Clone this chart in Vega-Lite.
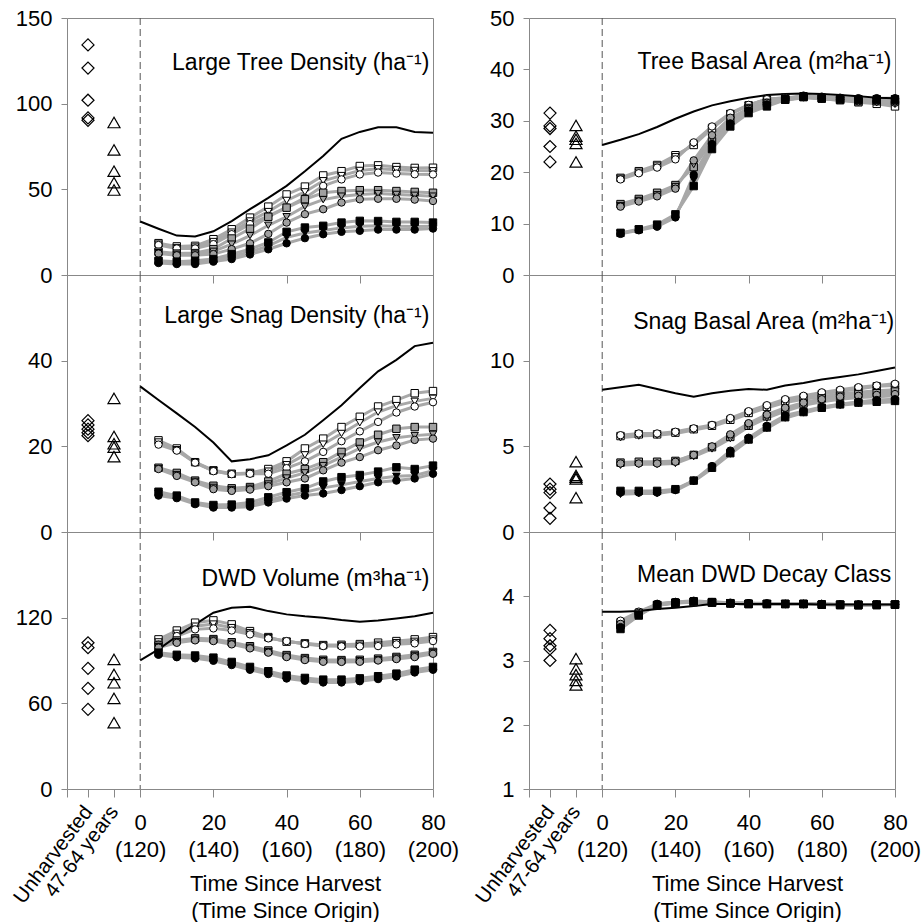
{
"$schema": "https://vega.github.io/schema/vega-lite/v6.json",
"padding": {"left": 9, "top": 6, "right": 5, "bottom": 0},
"background": "white",
"config": {"font": "Liberation Sans", "view": {"stroke": "#888888", "strokeWidth": 1}},
"datasets": {
"oA": [{"site":"Unharvested","v":134.3},{"site":"Unharvested","v":120.8},{"site":"Unharvested","v":102},{"site":"Unharvested","v":91.7},{"site":"Unharvested","v":90.3},{"site":"47-64 years","v":89},{"site":"47-64 years","v":73},{"site":"47-64 years","v":60.6},{"site":"47-64 years","v":53.9},{"site":"47-64 years","v":49.6}],
"oB": [{"site":"Unharvested","v":26},{"site":"Unharvested","v":25},{"site":"Unharvested","v":24},{"site":"Unharvested","v":23.2},{"site":"Unharvested","v":22.5},{"site":"47-64 years","v":31.2},{"site":"47-64 years","v":22.3},{"site":"47-64 years","v":20.6},{"site":"47-64 years","v":19.8},{"site":"47-64 years","v":17.6}],
"oC": [{"site":"Unharvested","v":102.4},{"site":"Unharvested","v":99},{"site":"Unharvested","v":84.5},{"site":"Unharvested","v":70.5},{"site":"Unharvested","v":55.8},{"site":"47-64 years","v":90.8},{"site":"47-64 years","v":80.3},{"site":"47-64 years","v":74.4},{"site":"47-64 years","v":63.5},{"site":"47-64 years","v":46.4}],
"oD": [{"site":"Unharvested","v":31.5},{"site":"Unharvested","v":29},{"site":"Unharvested","v":28.5},{"site":"Unharvested","v":25},{"site":"Unharvested","v":22},{"site":"47-64 years","v":29.1},{"site":"47-64 years","v":27},{"site":"47-64 years","v":26.4},{"site":"47-64 years","v":25.6},{"site":"47-64 years","v":22}],
"oE": [{"site":"Unharvested","v":2.8},{"site":"Unharvested","v":2.5},{"site":"Unharvested","v":2.3},{"site":"Unharvested","v":1.4},{"site":"Unharvested","v":0.8},{"site":"47-64 years","v":4.1},{"site":"47-64 years","v":3.3},{"site":"47-64 years","v":3.2},{"site":"47-64 years","v":3.1},{"site":"47-64 years","v":2.0}],
"oF": [{"site":"Unharvested","v":3.47},{"site":"Unharvested","v":3.34},{"site":"Unharvested","v":3.23},{"site":"Unharvested","v":3.18},{"site":"Unharvested","v":3.0},{"site":"47-64 years","v":3.03},{"site":"47-64 years","v":2.87},{"site":"47-64 years","v":2.78},{"site":"47-64 years","v":2.69},{"site":"47-64 years","v":2.62}],
"nA": [{"t":0,"v":31.2},{"t":5,"v":27},{"t":10,"v":23},{"t":15,"v":22.5},{"t":20,"v":25.5},{"t":25,"v":31.5},{"t":30,"v":38.4},{"t":35,"v":45},{"t":40,"v":52},{"t":45,"v":60.5},{"t":50,"v":69.4},{"t":55,"v":79.5},{"t":60,"v":83.5},{"t":65,"v":86.2},{"t":70,"v":86.2},{"t":75,"v":83.5},{"t":80,"v":83}],
"nB": [{"t":0,"v":34},{"t":5,"v":30.8},{"t":10,"v":27.7},{"t":15,"v":24.5},{"t":20,"v":20.9},{"t":25,"v":16.5},{"t":30,"v":17},{"t":35,"v":17.9},{"t":40,"v":20.2},{"t":45,"v":22.7},{"t":50,"v":26.1},{"t":55,"v":29.6},{"t":60,"v":33.6},{"t":65,"v":37.5},{"t":70,"v":40.2},{"t":75,"v":43.4},{"t":80,"v":44.2}],
"nC": [{"t":0,"v":90.1},{"t":5,"v":97.8},{"t":10,"v":107},{"t":15,"v":115.3},{"t":20,"v":123.5},{"t":25,"v":127},{"t":30,"v":127.7},{"t":35,"v":124.6},{"t":40,"v":122.3},{"t":45,"v":121},{"t":50,"v":120},{"t":55,"v":118.4},{"t":60,"v":117.2},{"t":65,"v":118.1},{"t":70,"v":119.5},{"t":75,"v":121},{"t":80,"v":123.5}],
"nD": [{"t":0,"v":25.3},{"t":5,"v":26.3},{"t":10,"v":27.4},{"t":15,"v":28.8},{"t":20,"v":30.4},{"t":25,"v":31.8},{"t":30,"v":33},{"t":35,"v":33.8},{"t":40,"v":34.5},{"t":45,"v":35},{"t":50,"v":35.2},{"t":55,"v":35.3},{"t":60,"v":35.2},{"t":65,"v":35},{"t":70,"v":34.8},{"t":75,"v":34.5},{"t":80,"v":34.4}],
"nE": [{"t":0,"v":8.3},{"t":5,"v":8.45},{"t":10,"v":8.6},{"t":15,"v":8.35},{"t":20,"v":8.1},{"t":25,"v":7.9},{"t":30,"v":8.1},{"t":35,"v":8.25},{"t":40,"v":8.35},{"t":45,"v":8.3},{"t":50,"v":8.55},{"t":55,"v":8.7},{"t":60,"v":8.9},{"t":65,"v":9.05},{"t":70,"v":9.2},{"t":75,"v":9.4},{"t":80,"v":9.6}],
"nF": [{"t":0,"v":3.76},{"t":5,"v":3.76},{"t":10,"v":3.77},{"t":15,"v":3.8},{"t":20,"v":3.82},{"t":25,"v":3.85},{"t":30,"v":3.88},{"t":35,"v":3.88},{"t":40,"v":3.88},{"t":45,"v":3.88},{"t":50,"v":3.88},{"t":55,"v":3.88},{"t":60,"v":3.87},{"t":65,"v":3.87},{"t":70,"v":3.87},{"t":75,"v":3.87},{"t":80,"v":3.87}],
"sA": [
{"s":"oS","t":5,"v":18.6},{"s":"oS","t":10,"v":16.7},{"s":"oS","t":15,"v":17},{"s":"oS","t":20,"v":20.9},{"s":"oS","t":25,"v":26.7},{"s":"oS","t":30,"v":33.5},{"s":"oS","t":35,"v":39.9},{"s":"oS","t":40,"v":47},{"s":"oS","t":45,"v":51.6},{"s":"oS","t":50,"v":58.1},{"s":"oS","t":55,"v":60.6},{"s":"oS","t":60,"v":63.6},{"s":"oS","t":65,"v":64},{"s":"oS","t":70,"v":63},{"s":"oS","t":75,"v":62.5},{"s":"oS","t":80,"v":62.6},
{"s":"oT","t":5,"v":18},{"s":"oT","t":10,"v":16},{"s":"oT","t":15,"v":16.3},{"s":"oT","t":20,"v":19.5},{"s":"oT","t":25,"v":25},{"s":"oT","t":30,"v":31.5},{"s":"oT","t":35,"v":37},{"s":"oT","t":40,"v":43.5},{"s":"oT","t":45,"v":48.5},{"s":"oT","t":50,"v":55},{"s":"oT","t":55,"v":58},{"s":"oT","t":60,"v":61},{"s":"oT","t":65,"v":62},{"s":"oT","t":70,"v":61.5},{"s":"oT","t":75,"v":61},{"s":"oT","t":80,"v":60.8},
{"s":"oC","t":5,"v":17.5},{"s":"oC","t":10,"v":15.5},{"s":"oC","t":15,"v":15.5},{"s":"oC","t":20,"v":18},{"s":"oC","t":25,"v":23.8},{"s":"oC","t":30,"v":29.7},{"s":"oC","t":35,"v":34.5},{"s":"oC","t":40,"v":39.5},{"s":"oC","t":45,"v":45},{"s":"oC","t":50,"v":52},{"s":"oC","t":55,"v":55.8},{"s":"oC","t":60,"v":58.7},{"s":"oC","t":65,"v":59.8},{"s":"oC","t":70,"v":59.2},{"s":"oC","t":75,"v":58.8},{"s":"oC","t":80,"v":58.7},
{"s":"gS","t":5,"v":13.6},{"s":"gS","t":10,"v":12.5},{"s":"gS","t":15,"v":12.8},{"s":"gS","t":20,"v":15.1},{"s":"gS","t":25,"v":21.3},{"s":"gS","t":30,"v":27},{"s":"gS","t":35,"v":34},{"s":"gS","t":40,"v":39.3},{"s":"gS","t":45,"v":44.2},{"s":"gS","t":50,"v":48},{"s":"gS","t":55,"v":49},{"s":"gS","t":60,"v":49.5},{"s":"gS","t":65,"v":49.5},{"s":"gS","t":70,"v":49},{"s":"gS","t":75,"v":48.5},{"s":"gS","t":80,"v":48},
{"s":"gT","t":5,"v":13},{"s":"gT","t":10,"v":12},{"s":"gT","t":15,"v":12.2},{"s":"gT","t":20,"v":13.8},{"s":"gT","t":25,"v":18},{"s":"gT","t":30,"v":23},{"s":"gT","t":35,"v":29},{"s":"gT","t":40,"v":34},{"s":"gT","t":45,"v":40},{"s":"gT","t":50,"v":44},{"s":"gT","t":55,"v":46},{"s":"gT","t":60,"v":47},{"s":"gT","t":65,"v":47.5},{"s":"gT","t":70,"v":47},{"s":"gT","t":75,"v":46.5},{"s":"gT","t":80,"v":46},
{"s":"gC","t":5,"v":12.5},{"s":"gC","t":10,"v":11.5},{"s":"gC","t":15,"v":11.5},{"s":"gC","t":20,"v":12.2},{"s":"gC","t":25,"v":15.1},{"s":"gC","t":30,"v":18.5},{"s":"gC","t":35,"v":24},{"s":"gC","t":40,"v":30.6},{"s":"gC","t":45,"v":35.5},{"s":"gC","t":50,"v":38.4},{"s":"gC","t":55,"v":42.3},{"s":"gC","t":60,"v":44.2},{"s":"gC","t":65,"v":44.5},{"s":"gC","t":70,"v":44.5},{"s":"gC","t":75,"v":44},{"s":"gC","t":80,"v":43.2},
{"s":"bS","t":5,"v":8.3},{"s":"bS","t":10,"v":7.8},{"s":"bS","t":15,"v":8.3},{"s":"bS","t":20,"v":9.3},{"s":"bS","t":25,"v":12.2},{"s":"bS","t":30,"v":15.1},{"s":"bS","t":35,"v":19},{"s":"bS","t":40,"v":25.2},{"s":"bS","t":45,"v":27.7},{"s":"bS","t":50,"v":28.7},{"s":"bS","t":55,"v":30.6},{"s":"bS","t":60,"v":31.6},{"s":"bS","t":65,"v":31.5},{"s":"bS","t":70,"v":31},{"s":"bS","t":75,"v":31},{"s":"bS","t":80,"v":30.6},
{"s":"bT","t":5,"v":7.6},{"s":"bT","t":10,"v":7},{"s":"bT","t":15,"v":7.2},{"s":"bT","t":20,"v":8.5},{"s":"bT","t":25,"v":10.8},{"s":"bT","t":30,"v":13.5},{"s":"bT","t":35,"v":17},{"s":"bT","t":40,"v":22},{"s":"bT","t":45,"v":24.5},{"s":"bT","t":50,"v":26},{"s":"bT","t":55,"v":27.5},{"s":"bT","t":60,"v":28.5},{"s":"bT","t":65,"v":28.8},{"s":"bT","t":70,"v":28.5},{"s":"bT","t":75,"v":28.3},{"s":"bT","t":80,"v":28.5},
{"s":"bC","t":5,"v":7},{"s":"bC","t":10,"v":6.4},{"s":"bC","t":15,"v":6.4},{"s":"bC","t":20,"v":7.8},{"s":"bC","t":25,"v":9.3},{"s":"bC","t":30,"v":12},{"s":"bC","t":35,"v":15},{"s":"bC","t":40,"v":18.5},{"s":"bC","t":45,"v":21.5},{"s":"bC","t":50,"v":23.8},{"s":"bC","t":55,"v":25.2},{"s":"bC","t":60,"v":25.8},{"s":"bC","t":65,"v":26.5},{"s":"bC","t":70,"v":26.5},{"s":"bC","t":75,"v":26.5},{"s":"bC","t":80,"v":27.1}
],
"sB": [
{"s":"oS","t":5,"v":21.4},{"s":"oS","t":10,"v":19.5},{"s":"oS","t":15,"v":16.3},{"s":"oS","t":20,"v":14.4},{"s":"oS","t":25,"v":13.6},{"s":"oS","t":30,"v":13.8},{"s":"oS","t":35,"v":14.7},{"s":"oS","t":40,"v":16.5},{"s":"oS","t":45,"v":19.5},{"s":"oS","t":50,"v":21.8},{"s":"oS","t":55,"v":24.5},{"s":"oS","t":60,"v":26.9},{"s":"oS","t":65,"v":29.3},{"s":"oS","t":70,"v":30.8},{"s":"oS","t":75,"v":32.4},{"s":"oS","t":80,"v":32.9},
{"s":"oT","t":5,"v":21},{"s":"oT","t":10,"v":19.2},{"s":"oT","t":15,"v":16.2},{"s":"oT","t":20,"v":14.3},{"s":"oT","t":25,"v":13.5},{"s":"oT","t":30,"v":13.7},{"s":"oT","t":35,"v":14.2},{"s":"oT","t":40,"v":15.7},{"s":"oT","t":45,"v":18},{"s":"oT","t":50,"v":20.5},{"s":"oT","t":55,"v":23},{"s":"oT","t":60,"v":25.5},{"s":"oT","t":65,"v":28},{"s":"oT","t":70,"v":29.5},{"s":"oT","t":75,"v":30.5},{"s":"oT","t":80,"v":31.2},
{"s":"oC","t":5,"v":20.4},{"s":"oC","t":10,"v":19},{"s":"oC","t":15,"v":16.2},{"s":"oC","t":20,"v":14.2},{"s":"oC","t":25,"v":13.5},{"s":"oC","t":30,"v":13.6},{"s":"oC","t":35,"v":13.6},{"s":"oC","t":40,"v":14.9},{"s":"oC","t":45,"v":16.5},{"s":"oC","t":50,"v":18.7},{"s":"oC","t":55,"v":21.2},{"s":"oC","t":60,"v":23.5},{"s":"oC","t":65,"v":25.7},{"s":"oC","t":70,"v":27.9},{"s":"oC","t":75,"v":29.3},{"s":"oC","t":80,"v":30.3},
{"s":"gS","t":5,"v":15},{"s":"gS","t":10,"v":13.8},{"s":"gS","t":15,"v":12},{"s":"gS","t":20,"v":10.8},{"s":"gS","t":25,"v":10.2},{"s":"gS","t":30,"v":10.5},{"s":"gS","t":35,"v":11.8},{"s":"gS","t":40,"v":13.6},{"s":"gS","t":45,"v":14.7},{"s":"gS","t":50,"v":16.3},{"s":"gS","t":55,"v":18.7},{"s":"gS","t":60,"v":20.9},{"s":"gS","t":65,"v":22.7},{"s":"gS","t":70,"v":24.1},{"s":"gS","t":75,"v":24.5},{"s":"gS","t":80,"v":24.5},
{"s":"gT","t":5,"v":14.8},{"s":"gT","t":10,"v":13.4},{"s":"gT","t":15,"v":11.8},{"s":"gT","t":20,"v":10.4},{"s":"gT","t":25,"v":9.9},{"s":"gT","t":30,"v":10.2},{"s":"gT","t":35,"v":11.2},{"s":"gT","t":40,"v":12.6},{"s":"gT","t":45,"v":13.8},{"s":"gT","t":50,"v":15.5},{"s":"gT","t":55,"v":17.5},{"s":"gT","t":60,"v":19.5},{"s":"gT","t":65,"v":21},{"s":"gT","t":70,"v":22},{"s":"gT","t":75,"v":22.5},{"s":"gT","t":80,"v":22.8},
{"s":"gC","t":5,"v":14.7},{"s":"gC","t":10,"v":13.1},{"s":"gC","t":15,"v":11.6},{"s":"gC","t":20,"v":10},{"s":"gC","t":25,"v":9.6},{"s":"gC","t":30,"v":9.9},{"s":"gC","t":35,"v":10.7},{"s":"gC","t":40,"v":11.6},{"s":"gC","t":45,"v":12.5},{"s":"gC","t":50,"v":14.4},{"s":"gC","t":55,"v":16.2},{"s":"gC","t":60,"v":17.5},{"s":"gC","t":65,"v":19.1},{"s":"gC","t":70,"v":20.2},{"s":"gC","t":75,"v":21.5},{"s":"gC","t":80,"v":21.8},
{"s":"bS","t":5,"v":9.4},{"s":"bS","t":10,"v":8.5},{"s":"bS","t":15,"v":6.9},{"s":"bS","t":20,"v":6.3},{"s":"bS","t":25,"v":6.4},{"s":"bS","t":30,"v":6.9},{"s":"bS","t":35,"v":8.1},{"s":"bS","t":40,"v":9.3},{"s":"bS","t":45,"v":10.2},{"s":"bS","t":50,"v":11.8},{"s":"bS","t":55,"v":12.8},{"s":"bS","t":60,"v":13.3},{"s":"bS","t":65,"v":14.1},{"s":"bS","t":70,"v":15.1},{"s":"bS","t":75,"v":14.7},{"s":"bS","t":80,"v":15.5},
{"s":"bT","t":5,"v":9},{"s":"bT","t":10,"v":8.2},{"s":"bT","t":15,"v":6.7},{"s":"bT","t":20,"v":6},{"s":"bT","t":25,"v":6},{"s":"bT","t":30,"v":6.3},{"s":"bT","t":35,"v":7.4},{"s":"bT","t":40,"v":8.5},{"s":"bT","t":45,"v":9.3},{"s":"bT","t":50,"v":10.3},{"s":"bT","t":55,"v":11},{"s":"bT","t":60,"v":11.8},{"s":"bT","t":65,"v":12.5},{"s":"bT","t":70,"v":13},{"s":"bT","t":75,"v":13.2},{"s":"bT","t":80,"v":14.3},
{"s":"bC","t":5,"v":8.5},{"s":"bC","t":10,"v":7.9},{"s":"bC","t":15,"v":6.5},{"s":"bC","t":20,"v":5.7},{"s":"bC","t":25,"v":5.7},{"s":"bC","t":30,"v":5.9},{"s":"bC","t":35,"v":6.9},{"s":"bC","t":40,"v":7.8},{"s":"bC","t":45,"v":8.5},{"s":"bC","t":50,"v":9},{"s":"bC","t":55,"v":9.8},{"s":"bC","t":60,"v":10.7},{"s":"bC","t":65,"v":11.6},{"s":"bC","t":70,"v":12},{"s":"bC","t":75,"v":12.5},{"s":"bC","t":80,"v":13.6}
],
"sC": [
{"s":"oS","t":5,"v":104.8},{"s":"oS","t":10,"v":111},{"s":"oS","t":15,"v":116.5},{"s":"oS","t":20,"v":118.1},{"s":"oS","t":25,"v":115.3},{"s":"oS","t":30,"v":110.6},{"s":"oS","t":35,"v":106.4},{"s":"oS","t":40,"v":103.2},{"s":"oS","t":45,"v":102},{"s":"oS","t":50,"v":100.8},{"s":"oS","t":55,"v":101},{"s":"oS","t":60,"v":101.5},{"s":"oS","t":65,"v":102.5},{"s":"oS","t":70,"v":103.6},{"s":"oS","t":75,"v":104.8},{"s":"oS","t":80,"v":106.4},
{"s":"oT","t":5,"v":103},{"s":"oT","t":10,"v":109},{"s":"oT","t":15,"v":114},{"s":"oT","t":20,"v":115.5},{"s":"oT","t":25,"v":113},{"s":"oT","t":30,"v":109.5},{"s":"oT","t":35,"v":106},{"s":"oT","t":40,"v":103.4},{"s":"oT","t":45,"v":101.8},{"s":"oT","t":50,"v":100.5},{"s":"oT","t":55,"v":100.5},{"s":"oT","t":60,"v":100.7},{"s":"oT","t":65,"v":101.3},{"s":"oT","t":70,"v":102.5},{"s":"oT","t":75,"v":103.4},{"s":"oT","t":80,"v":105},
{"s":"oC","t":5,"v":101.3},{"s":"oC","t":10,"v":107.1},{"s":"oC","t":15,"v":111.8},{"s":"oC","t":20,"v":112.5},{"s":"oC","t":25,"v":111},{"s":"oC","t":30,"v":108.3},{"s":"oC","t":35,"v":105.5},{"s":"oC","t":40,"v":103.6},{"s":"oC","t":45,"v":101.5},{"s":"oC","t":50,"v":100.1},{"s":"oC","t":55,"v":99.9},{"s":"oC","t":60,"v":99.9},{"s":"oC","t":65,"v":100.1},{"s":"oC","t":70,"v":101.3},{"s":"oC","t":75,"v":102},{"s":"oC","t":80,"v":103.6},
{"s":"gS","t":5,"v":100.5},{"s":"gS","t":10,"v":104},{"s":"gS","t":15,"v":105.5},{"s":"gS","t":20,"v":105},{"s":"gS","t":25,"v":102.8},{"s":"gS","t":30,"v":100},{"s":"gS","t":35,"v":97},{"s":"gS","t":40,"v":93.8},{"s":"gS","t":45,"v":91.7},{"s":"gS","t":50,"v":90.5},{"s":"gS","t":55,"v":90.3},{"s":"gS","t":60,"v":90.5},{"s":"gS","t":65,"v":91.3},{"s":"gS","t":70,"v":92.5},{"s":"gS","t":75,"v":94},{"s":"gS","t":80,"v":96},
{"s":"gT","t":5,"v":99.7},{"s":"gT","t":10,"v":103.2},{"s":"gT","t":15,"v":104.8},{"s":"gT","t":20,"v":104.3},{"s":"gT","t":25,"v":102},{"s":"gT","t":30,"v":99.2},{"s":"gT","t":35,"v":96.2},{"s":"gT","t":40,"v":93},{"s":"gT","t":45,"v":91},{"s":"gT","t":50,"v":89.8},{"s":"gT","t":55,"v":89.6},{"s":"gT","t":60,"v":89.8},{"s":"gT","t":65,"v":90.6},{"s":"gT","t":70,"v":91.7},{"s":"gT","t":75,"v":93.2},{"s":"gT","t":80,"v":95.3},
{"s":"gC","t":5,"v":99},{"s":"gC","t":10,"v":102.4},{"s":"gC","t":15,"v":104.1},{"s":"gC","t":20,"v":103.6},{"s":"gC","t":25,"v":101.3},{"s":"gC","t":30,"v":98.5},{"s":"gC","t":35,"v":95.5},{"s":"gC","t":40,"v":92.4},{"s":"gC","t":45,"v":90.3},{"s":"gC","t":50,"v":89.1},{"s":"gC","t":55,"v":89},{"s":"gC","t":60,"v":89.1},{"s":"gC","t":65,"v":90},{"s":"gC","t":70,"v":91},{"s":"gC","t":75,"v":92.4},{"s":"gC","t":80,"v":94.7},
{"s":"bS","t":5,"v":95.5},{"s":"bS","t":10,"v":94},{"s":"bS","t":15,"v":93.5},{"s":"bS","t":20,"v":92},{"s":"bS","t":25,"v":89},{"s":"bS","t":30,"v":85.5},{"s":"bS","t":35,"v":82.5},{"s":"bS","t":40,"v":79.5},{"s":"bS","t":45,"v":77.8},{"s":"bS","t":50,"v":76.6},{"s":"bS","t":55,"v":76.6},{"s":"bS","t":60,"v":77.5},{"s":"bS","t":65,"v":79},{"s":"bS","t":70,"v":80.8},{"s":"bS","t":75,"v":83.6},{"s":"bS","t":80,"v":85.5},
{"s":"bT","t":5,"v":94.7},{"s":"bT","t":10,"v":93.1},{"s":"bT","t":15,"v":92.4},{"s":"bT","t":20,"v":90.8},{"s":"bT","t":25,"v":87.8},{"s":"bT","t":30,"v":84.5},{"s":"bT","t":35,"v":81.5},{"s":"bT","t":40,"v":78.4},{"s":"bT","t":45,"v":76.8},{"s":"bT","t":50,"v":75.6},{"s":"bT","t":55,"v":75.6},{"s":"bT","t":60,"v":76.5},{"s":"bT","t":65,"v":78},{"s":"bT","t":70,"v":79.8},{"s":"bT","t":75,"v":82.6},{"s":"bT","t":80,"v":84.5},
{"s":"bC","t":5,"v":94},{"s":"bC","t":10,"v":92.3},{"s":"bC","t":15,"v":91.5},{"s":"bC","t":20,"v":89.8},{"s":"bC","t":25,"v":86.8},{"s":"bC","t":30,"v":83.5},{"s":"bC","t":35,"v":80.5},{"s":"bC","t":40,"v":77.4},{"s":"bC","t":45,"v":75.8},{"s":"bC","t":50,"v":74.6},{"s":"bC","t":55,"v":74.6},{"s":"bC","t":60,"v":75.5},{"s":"bC","t":65,"v":77},{"s":"bC","t":70,"v":78.8},{"s":"bC","t":75,"v":81.6},{"s":"bC","t":80,"v":83.5}
],
"sD": [
{"s":"oS","t":5,"v":18.9},{"s":"oS","t":10,"v":20.2},{"s":"oS","t":15,"v":21.4},{"s":"oS","t":20,"v":23.3},{"s":"oS","t":25,"v":25.3},{"s":"oS","t":30,"v":28.5},{"s":"oS","t":35,"v":31.3},{"s":"oS","t":40,"v":33},{"s":"oS","t":45,"v":34.2},{"s":"oS","t":50,"v":34.5},{"s":"oS","t":55,"v":34.7},{"s":"oS","t":60,"v":34.3},{"s":"oS","t":65,"v":34},{"s":"oS","t":70,"v":33.6},{"s":"oS","t":75,"v":33.3},{"s":"oS","t":80,"v":32.8},
{"s":"oT","t":5,"v":18.8},{"s":"oT","t":10,"v":20},{"s":"oT","t":15,"v":21.2},{"s":"oT","t":20,"v":23},{"s":"oT","t":25,"v":25.5},{"s":"oT","t":30,"v":28.7},{"s":"oT","t":35,"v":31.4},{"s":"oT","t":40,"v":33},{"s":"oT","t":45,"v":34.2},{"s":"oT","t":50,"v":34.5},{"s":"oT","t":55,"v":34.7},{"s":"oT","t":60,"v":34.4},{"s":"oT","t":65,"v":34.1},{"s":"oT","t":70,"v":33.8},{"s":"oT","t":75,"v":33.6},{"s":"oT","t":80,"v":33.2},
{"s":"oC","t":5,"v":18.6},{"s":"oC","t":10,"v":19.8},{"s":"oC","t":15,"v":20.9},{"s":"oC","t":20,"v":22.5},{"s":"oC","t":25,"v":25.8},{"s":"oC","t":30,"v":28.9},{"s":"oC","t":35,"v":31.5},{"s":"oC","t":40,"v":33.1},{"s":"oC","t":45,"v":34.2},{"s":"oC","t":50,"v":34.4},{"s":"oC","t":55,"v":34.7},{"s":"oC","t":60,"v":34.4},{"s":"oC","t":65,"v":34.2},{"s":"oC","t":70,"v":34},{"s":"oC","t":75,"v":33.8},{"s":"oC","t":80,"v":33.5},
{"s":"gS","t":5,"v":13.8},{"s":"gS","t":10,"v":14.8},{"s":"gS","t":15,"v":16},{"s":"gS","t":20,"v":17.5},{"s":"gS","t":25,"v":21},{"s":"gS","t":30,"v":26},{"s":"gS","t":35,"v":30},{"s":"gS","t":40,"v":32.5},{"s":"gS","t":45,"v":33.5},{"s":"gS","t":50,"v":34.1},{"s":"gS","t":55,"v":34.6},{"s":"gS","t":60,"v":34.4},{"s":"gS","t":65,"v":34.1},{"s":"gS","t":70,"v":33.8},{"s":"gS","t":75,"v":33.8},{"s":"gS","t":80,"v":33.8},
{"s":"gT","t":5,"v":13.5},{"s":"gT","t":10,"v":14.5},{"s":"gT","t":15,"v":15.6},{"s":"gT","t":20,"v":17.2},{"s":"gT","t":25,"v":21.5},{"s":"gT","t":30,"v":26.6},{"s":"gT","t":35,"v":30.3},{"s":"gT","t":40,"v":32.4},{"s":"gT","t":45,"v":33.4},{"s":"gT","t":50,"v":34},{"s":"gT","t":55,"v":34.5},{"s":"gT","t":60,"v":34.3},{"s":"gT","t":65,"v":34},{"s":"gT","t":70,"v":33.7},{"s":"gT","t":75,"v":33.7},{"s":"gT","t":80,"v":33.6},
{"s":"gC","t":5,"v":13.3},{"s":"gC","t":10,"v":14.3},{"s":"gC","t":15,"v":15.3},{"s":"gC","t":20,"v":16.8},{"s":"gC","t":25,"v":22.3},{"s":"gC","t":30,"v":27.2},{"s":"gC","t":35,"v":30.6},{"s":"gC","t":40,"v":32.3},{"s":"gC","t":45,"v":33.5},{"s":"gC","t":50,"v":34.1},{"s":"gC","t":55,"v":34.6},{"s":"gC","t":60,"v":34.4},{"s":"gC","t":65,"v":34.1},{"s":"gC","t":70,"v":33.8},{"s":"gC","t":75,"v":33.8},{"s":"gC","t":80,"v":33.8},
{"s":"bS","t":5,"v":8.2},{"s":"bS","t":10,"v":8.9},{"s":"bS","t":15,"v":9.8},{"s":"bS","t":20,"v":11.8},{"s":"bS","t":25,"v":17.3},{"s":"bS","t":30,"v":24.5},{"s":"bS","t":35,"v":28.9},{"s":"bS","t":40,"v":31.5},{"s":"bS","t":45,"v":32.8},{"s":"bS","t":50,"v":34.1},{"s":"bS","t":55,"v":34.7},{"s":"bS","t":60,"v":34.4},{"s":"bS","t":65,"v":34.2},{"s":"bS","t":70,"v":34.1},{"s":"bS","t":75,"v":34.1},{"s":"bS","t":80,"v":34.1},
{"s":"bT","t":5,"v":8.1},{"s":"bT","t":10,"v":8.8},{"s":"bT","t":15,"v":9.6},{"s":"bT","t":20,"v":11.5},{"s":"bT","t":25,"v":18.5},{"s":"bT","t":30,"v":25},{"s":"bT","t":35,"v":29.2},{"s":"bT","t":40,"v":31.8},{"s":"bT","t":45,"v":33},{"s":"bT","t":50,"v":34.2},{"s":"bT","t":55,"v":34.8},{"s":"bT","t":60,"v":34.6},{"s":"bT","t":65,"v":34.4},{"s":"bT","t":70,"v":34.3},{"s":"bT","t":75,"v":34.3},{"s":"bT","t":80,"v":34.3},
{"s":"bC","t":5,"v":8},{"s":"bC","t":10,"v":8.7},{"s":"bC","t":15,"v":9.4},{"s":"bC","t":20,"v":11.2},{"s":"bC","t":25,"v":19.5},{"s":"bC","t":30,"v":25.5},{"s":"bC","t":35,"v":29.5},{"s":"bC","t":40,"v":32},{"s":"bC","t":45,"v":33.2},{"s":"bC","t":50,"v":34.3},{"s":"bC","t":55,"v":34.9},{"s":"bC","t":60,"v":34.7},{"s":"bC","t":65,"v":34.5},{"s":"bC","t":70,"v":34.4},{"s":"bC","t":75,"v":34.4},{"s":"bC","t":80,"v":34.4}
],
"sE": [
{"s":"oS","t":5,"v":5.6},{"s":"oS","t":10,"v":5.7},{"s":"oS","t":15,"v":5.7},{"s":"oS","t":20,"v":5.8},{"s":"oS","t":25,"v":6.0},{"s":"oS","t":30,"v":6.2},{"s":"oS","t":35,"v":6.55},{"s":"oS","t":40,"v":6.95},{"s":"oS","t":45,"v":7.3},{"s":"oS","t":50,"v":7.65},{"s":"oS","t":55,"v":7.85},{"s":"oS","t":60,"v":8.05},{"s":"oS","t":65,"v":8.2},{"s":"oS","t":70,"v":8.35},{"s":"oS","t":75,"v":8.5},{"s":"oS","t":80,"v":8.55},
{"s":"oT","t":5,"v":5.5},{"s":"oT","t":10,"v":5.6},{"s":"oT","t":15,"v":5.65},{"s":"oT","t":20,"v":5.75},{"s":"oT","t":25,"v":5.95},{"s":"oT","t":30,"v":6.15},{"s":"oT","t":35,"v":6.5},{"s":"oT","t":40,"v":6.9},{"s":"oT","t":45,"v":7.25},{"s":"oT","t":50,"v":7.55},{"s":"oT","t":55,"v":7.75},{"s":"oT","t":60,"v":7.9},{"s":"oT","t":65,"v":8.05},{"s":"oT","t":70,"v":8.15},{"s":"oT","t":75,"v":8.25},{"s":"oT","t":80,"v":8.3},
{"s":"oC","t":5,"v":5.65},{"s":"oC","t":10,"v":5.75},{"s":"oC","t":15,"v":5.75},{"s":"oC","t":20,"v":5.85},{"s":"oC","t":25,"v":6.05},{"s":"oC","t":30,"v":6.25},{"s":"oC","t":35,"v":6.65},{"s":"oC","t":40,"v":7.05},{"s":"oC","t":45,"v":7.4},{"s":"oC","t":50,"v":7.75},{"s":"oC","t":55,"v":7.95},{"s":"oC","t":60,"v":8.15},{"s":"oC","t":65,"v":8.3},{"s":"oC","t":70,"v":8.45},{"s":"oC","t":75,"v":8.55},{"s":"oC","t":80,"v":8.65},
{"s":"gS","t":5,"v":4.05},{"s":"gS","t":10,"v":4.1},{"s":"gS","t":15,"v":4.1},{"s":"gS","t":20,"v":4.15},{"s":"gS","t":25,"v":4.5},{"s":"gS","t":30,"v":4.95},{"s":"gS","t":35,"v":5.55},{"s":"gS","t":40,"v":6.2},{"s":"gS","t":45,"v":6.75},{"s":"gS","t":50,"v":7.15},{"s":"gS","t":55,"v":7.5},{"s":"gS","t":60,"v":7.8},{"s":"gS","t":65,"v":7.95},{"s":"gS","t":70,"v":8.05},{"s":"gS","t":75,"v":8.1},{"s":"gS","t":80,"v":8.2},
{"s":"gT","t":5,"v":3.9},{"s":"gT","t":10,"v":3.95},{"s":"gT","t":15,"v":3.95},{"s":"gT","t":20,"v":4.0},{"s":"gT","t":25,"v":4.4},{"s":"gT","t":30,"v":4.85},{"s":"gT","t":35,"v":5.45},{"s":"gT","t":40,"v":6.15},{"s":"gT","t":45,"v":6.65},{"s":"gT","t":50,"v":7.05},{"s":"gT","t":55,"v":7.4},{"s":"gT","t":60,"v":7.6},{"s":"gT","t":65,"v":7.75},{"s":"gT","t":70,"v":7.85},{"s":"gT","t":75,"v":7.9},{"s":"gT","t":80,"v":7.95},
{"s":"gC","t":5,"v":4.0},{"s":"gC","t":10,"v":4.0},{"s":"gC","t":15,"v":4.0},{"s":"gC","t":20,"v":4.1},{"s":"gC","t":25,"v":4.5},{"s":"gC","t":30,"v":5.0},{"s":"gC","t":35,"v":5.7},{"s":"gC","t":40,"v":6.35},{"s":"gC","t":45,"v":6.85},{"s":"gC","t":50,"v":7.25},{"s":"gC","t":55,"v":7.55},{"s":"gC","t":60,"v":7.75},{"s":"gC","t":65,"v":7.9},{"s":"gC","t":70,"v":7.95},{"s":"gC","t":75,"v":8.0},{"s":"gC","t":80,"v":8.05},
{"s":"bS","t":5,"v":2.4},{"s":"bS","t":10,"v":2.4},{"s":"bS","t":15,"v":2.4},{"s":"bS","t":20,"v":2.5},{"s":"bS","t":25,"v":3.0},{"s":"bS","t":30,"v":3.75},{"s":"bS","t":35,"v":4.6},{"s":"bS","t":40,"v":5.4},{"s":"bS","t":45,"v":6.1},{"s":"bS","t":50,"v":6.7},{"s":"bS","t":55,"v":7.0},{"s":"bS","t":60,"v":7.25},{"s":"bS","t":65,"v":7.45},{"s":"bS","t":70,"v":7.55},{"s":"bS","t":75,"v":7.6},{"s":"bS","t":80,"v":7.65},
{"s":"bT","t":5,"v":2.2},{"s":"bT","t":10,"v":2.25},{"s":"bT","t":15,"v":2.25},{"s":"bT","t":20,"v":2.4},{"s":"bT","t":25,"v":2.95},{"s":"bT","t":30,"v":3.7},{"s":"bT","t":35,"v":4.55},{"s":"bT","t":40,"v":5.35},{"s":"bT","t":45,"v":6.05},{"s":"bT","t":50,"v":6.65},{"s":"bT","t":55,"v":6.95},{"s":"bT","t":60,"v":7.2},{"s":"bT","t":65,"v":7.4},{"s":"bT","t":70,"v":7.5},{"s":"bT","t":75,"v":7.55},{"s":"bT","t":80,"v":7.6},
{"s":"bC","t":5,"v":2.3},{"s":"bC","t":10,"v":2.3},{"s":"bC","t":15,"v":2.3},{"s":"bC","t":20,"v":2.45},{"s":"bC","t":25,"v":3.0},{"s":"bC","t":30,"v":3.85},{"s":"bC","t":35,"v":4.75},{"s":"bC","t":40,"v":5.5},{"s":"bC","t":45,"v":6.2},{"s":"bC","t":50,"v":6.8},{"s":"bC","t":55,"v":7.05},{"s":"bC","t":60,"v":7.3},{"s":"bC","t":65,"v":7.45},{"s":"bC","t":70,"v":7.6},{"s":"bC","t":75,"v":7.7},{"s":"bC","t":80,"v":7.75}
],
"sF": [
{"s":"oS","t":5,"v":3.58},{"s":"oS","t":10,"v":3.74},{"s":"oS","t":15,"v":3.86},{"s":"oS","t":20,"v":3.89},{"s":"oS","t":25,"v":3.91},{"s":"oS","t":30,"v":3.9},{"s":"oS","t":35,"v":3.89},{"s":"oS","t":40,"v":3.88},{"s":"oS","t":45,"v":3.88},{"s":"oS","t":50,"v":3.88},{"s":"oS","t":55,"v":3.88},{"s":"oS","t":60,"v":3.87},{"s":"oS","t":65,"v":3.87},{"s":"oS","t":70,"v":3.87},{"s":"oS","t":75,"v":3.87},{"s":"oS","t":80,"v":3.87},
{"s":"oT","t":5,"v":3.6},{"s":"oT","t":10,"v":3.75},{"s":"oT","t":15,"v":3.87},{"s":"oT","t":20,"v":3.9},{"s":"oT","t":25,"v":3.91},{"s":"oT","t":30,"v":3.9},{"s":"oT","t":35,"v":3.89},{"s":"oT","t":40,"v":3.88},{"s":"oT","t":45,"v":3.88},{"s":"oT","t":50,"v":3.88},{"s":"oT","t":55,"v":3.88},{"s":"oT","t":60,"v":3.87},{"s":"oT","t":65,"v":3.87},{"s":"oT","t":70,"v":3.87},{"s":"oT","t":75,"v":3.87},{"s":"oT","t":80,"v":3.87},
{"s":"oC","t":5,"v":3.62},{"s":"oC","t":10,"v":3.76},{"s":"oC","t":15,"v":3.88},{"s":"oC","t":20,"v":3.9},{"s":"oC","t":25,"v":3.92},{"s":"oC","t":30,"v":3.9},{"s":"oC","t":35,"v":3.89},{"s":"oC","t":40,"v":3.89},{"s":"oC","t":45,"v":3.88},{"s":"oC","t":50,"v":3.88},{"s":"oC","t":55,"v":3.88},{"s":"oC","t":60,"v":3.88},{"s":"oC","t":65,"v":3.87},{"s":"oC","t":70,"v":3.87},{"s":"oC","t":75,"v":3.87},{"s":"oC","t":80,"v":3.87},
{"s":"gS","t":5,"v":3.55},{"s":"gS","t":10,"v":3.72},{"s":"gS","t":15,"v":3.86},{"s":"gS","t":20,"v":3.9},{"s":"gS","t":25,"v":3.91},{"s":"gS","t":30,"v":3.9},{"s":"gS","t":35,"v":3.89},{"s":"gS","t":40,"v":3.88},{"s":"gS","t":45,"v":3.88},{"s":"gS","t":50,"v":3.88},{"s":"gS","t":55,"v":3.88},{"s":"gS","t":60,"v":3.87},{"s":"gS","t":65,"v":3.87},{"s":"gS","t":70,"v":3.86},{"s":"gS","t":75,"v":3.87},{"s":"gS","t":80,"v":3.87},
{"s":"gT","t":5,"v":3.56},{"s":"gT","t":10,"v":3.73},{"s":"gT","t":15,"v":3.87},{"s":"gT","t":20,"v":3.9},{"s":"gT","t":25,"v":3.92},{"s":"gT","t":30,"v":3.9},{"s":"gT","t":35,"v":3.89},{"s":"gT","t":40,"v":3.88},{"s":"gT","t":45,"v":3.88},{"s":"gT","t":50,"v":3.88},{"s":"gT","t":55,"v":3.88},{"s":"gT","t":60,"v":3.87},{"s":"gT","t":65,"v":3.87},{"s":"gT","t":70,"v":3.87},{"s":"gT","t":75,"v":3.87},{"s":"gT","t":80,"v":3.87},
{"s":"gC","t":5,"v":3.57},{"s":"gC","t":10,"v":3.74},{"s":"gC","t":15,"v":3.88},{"s":"gC","t":20,"v":3.91},{"s":"gC","t":25,"v":3.92},{"s":"gC","t":30,"v":3.91},{"s":"gC","t":35,"v":3.89},{"s":"gC","t":40,"v":3.89},{"s":"gC","t":45,"v":3.88},{"s":"gC","t":50,"v":3.88},{"s":"gC","t":55,"v":3.88},{"s":"gC","t":60,"v":3.88},{"s":"gC","t":65,"v":3.87},{"s":"gC","t":70,"v":3.87},{"s":"gC","t":75,"v":3.87},{"s":"gC","t":80,"v":3.87},
{"s":"bS","t":5,"v":3.49},{"s":"bS","t":10,"v":3.7},{"s":"bS","t":15,"v":3.86},{"s":"bS","t":20,"v":3.9},{"s":"bS","t":25,"v":3.92},{"s":"bS","t":30,"v":3.91},{"s":"bS","t":35,"v":3.89},{"s":"bS","t":40,"v":3.88},{"s":"bS","t":45,"v":3.88},{"s":"bS","t":50,"v":3.88},{"s":"bS","t":55,"v":3.88},{"s":"bS","t":60,"v":3.87},{"s":"bS","t":65,"v":3.86},{"s":"bS","t":70,"v":3.86},{"s":"bS","t":75,"v":3.86},{"s":"bS","t":80,"v":3.87},
{"s":"bT","t":5,"v":3.5},{"s":"bT","t":10,"v":3.71},{"s":"bT","t":15,"v":3.87},{"s":"bT","t":20,"v":3.9},{"s":"bT","t":25,"v":3.92},{"s":"bT","t":30,"v":3.91},{"s":"bT","t":35,"v":3.9},{"s":"bT","t":40,"v":3.89},{"s":"bT","t":45,"v":3.88},{"s":"bT","t":50,"v":3.88},{"s":"bT","t":55,"v":3.88},{"s":"bT","t":60,"v":3.87},{"s":"bT","t":65,"v":3.87},{"s":"bT","t":70,"v":3.86},{"s":"bT","t":75,"v":3.87},{"s":"bT","t":80,"v":3.87},
{"s":"bC","t":5,"v":3.52},{"s":"bC","t":10,"v":3.72},{"s":"bC","t":15,"v":3.88},{"s":"bC","t":20,"v":3.91},{"s":"bC","t":25,"v":3.93},{"s":"bC","t":30,"v":3.91},{"s":"bC","t":35,"v":3.9},{"s":"bC","t":40,"v":3.89},{"s":"bC","t":45,"v":3.89},{"s":"bC","t":50,"v":3.88},{"s":"bC","t":55,"v":3.88},{"s":"bC","t":60,"v":3.88},{"s":"bC","t":65,"v":3.87},{"s":"bC","t":70,"v":3.87},{"s":"bC","t":75,"v":3.87},{"s":"bC","t":80,"v":3.87}
]
},
"columns": 2,
"spacing": {"row": 0, "column": 96},
"bounds": "flush",
"concat": [
 {"width": 366, "height": 257, "resolve": {"scale": {"x": "independent", "shape": "independent"}},
  "layer": [
   {"data": {"name": "oA"}, "mark": {"type": "point", "filled": false, "stroke": "black", "strokeWidth": 1.2, "size": 145, "opacity": 1},
    "encoding": {"x": {"field": "site", "type": "nominal", "sort": null, "scale": {"type": "point", "domain": ["Unharvested", "47-64 years"], "range": [21, 47], "padding": 0}, "axis": null},
     "y": {"field": "v", "type": "quantitative", "scale": {"domain": [0, 150], "nice": false}, "axis": {"values": [0, 50, 100, 150], "labelFontSize": 22, "labelColor": "black", "tickSize": 6, "tickColor": "#888888", "domain": false, "grid": false, "title": null, "labelPadding": 9}},
     "shape": {"field": "site", "type": "nominal", "scale": {"domain": ["Unharvested", "47-64 years"], "range": ["diamond", "triangle-up"]}, "legend": null}}},
   {"layer": [
     {"data": {"values": [{}]}, "mark": {"type": "rule", "strokeDash": [7, 4], "color": "#555555", "strokeWidth": 1}, "encoding": {"x": {"datum": 0, "type": "quantitative", "scale": {"domain": [-20, 80], "nice": false}, "axis": {"values": [20, 40, 60, 80], "labels": false, "tickSize": 8, "tickColor": "#888888", "domain": false, "grid": false, "title": null}}}},
     {"data": {"name": "sA"}, "mark": {"type": "line", "color": "#a8a8a8", "strokeWidth": 3}, "encoding": {"x": {"field": "t", "type": "quantitative", "scale": {"domain": [-20, 80], "nice": false}}, "y": {"field": "v", "type": "quantitative", "scale": {"domain": [0, 150], "nice": false}}, "detail": {"field": "s", "type": "nominal"}}},
     {"data": {"name": "nA"}, "mark": {"type": "line", "color": "black", "strokeWidth": 2}, "encoding": {"x": {"field": "t", "type": "quantitative", "scale": {"domain": [-20, 80], "nice": false}}, "y": {"field": "v", "type": "quantitative", "scale": {"domain": [0, 150], "nice": false}}}},
     {"data": {"name": "sA"}, "mark": {"type": "point", "filled": true, "stroke": "black", "strokeWidth": 1, "size": 55, "opacity": 1}, "encoding": {"x": {"field": "t", "type": "quantitative", "scale": {"domain": [-20, 80], "nice": false}}, "y": {"field": "v", "type": "quantitative", "scale": {"domain": [0, 150], "nice": false}},
       "shape": {"field": "s", "type": "nominal", "scale": {"domain": ["oS","oT","oC","gS","gT","gC","bS","bT","bC"], "range": ["square","triangle-down","circle","square","triangle-down","circle","square","triangle-down","circle"]}, "legend": null},
       "fill": {"field": "s", "type": "nominal", "scale": {"domain": ["oS","oT","oC","gS","gT","gC","bS","bT","bC"], "range": ["white","white","white","#a0a0a0","#a0a0a0","#a0a0a0","black","black","black"]}, "legend": null}}},
     {"data": {"values": [{}]}, "mark": {"type": "text", "align": "right", "baseline": "middle", "fontSize": 23, "color": "black"}, "encoding": {"x": {"datum": 79, "type": "quantitative", "scale": {"domain": [-20, 80], "nice": false}}, "y": {"datum": 124, "type": "quantitative", "scale": {"domain": [0, 150], "nice": false}}, "text": {"value": "Large Tree Density (ha⁻¹)"}}}
   ]}
  ]},
 {"width": 366, "height": 257, "resolve": {"scale": {"x": "independent", "shape": "independent"}},
  "layer": [
   {"data": {"name": "oD"}, "mark": {"type": "point", "filled": false, "stroke": "black", "strokeWidth": 1.2, "size": 145, "opacity": 1},
    "encoding": {"x": {"field": "site", "type": "nominal", "sort": null, "scale": {"type": "point", "domain": ["Unharvested", "47-64 years"], "range": [21, 47], "padding": 0}, "axis": null},
     "y": {"field": "v", "type": "quantitative", "scale": {"domain": [0, 50], "nice": false}, "axis": {"values": [0, 10, 20, 30, 40, 50], "labelFontSize": 22, "labelColor": "black", "tickSize": 6, "tickColor": "#888888", "domain": false, "grid": false, "title": null, "labelPadding": 9}},
     "shape": {"field": "site", "type": "nominal", "scale": {"domain": ["Unharvested", "47-64 years"], "range": ["diamond", "triangle-up"]}, "legend": null}}},
   {"layer": [
     {"data": {"values": [{}]}, "mark": {"type": "rule", "strokeDash": [7, 4], "color": "#555555", "strokeWidth": 1}, "encoding": {"x": {"datum": 0, "type": "quantitative", "scale": {"domain": [-20, 80], "nice": false}, "axis": {"values": [20, 40, 60, 80], "labels": false, "tickSize": 8, "tickColor": "#888888", "domain": false, "grid": false, "title": null}}}},
     {"data": {"name": "sD"}, "mark": {"type": "line", "color": "#a8a8a8", "strokeWidth": 3}, "encoding": {"x": {"field": "t", "type": "quantitative", "scale": {"domain": [-20, 80], "nice": false}}, "y": {"field": "v", "type": "quantitative", "scale": {"domain": [0, 50], "nice": false}}, "detail": {"field": "s", "type": "nominal"}}},
     {"data": {"name": "nD"}, "mark": {"type": "line", "color": "black", "strokeWidth": 2}, "encoding": {"x": {"field": "t", "type": "quantitative", "scale": {"domain": [-20, 80], "nice": false}}, "y": {"field": "v", "type": "quantitative", "scale": {"domain": [0, 50], "nice": false}}}},
     {"data": {"name": "sD"}, "mark": {"type": "point", "filled": true, "stroke": "black", "strokeWidth": 1, "size": 55, "opacity": 1}, "encoding": {"x": {"field": "t", "type": "quantitative", "scale": {"domain": [-20, 80], "nice": false}}, "y": {"field": "v", "type": "quantitative", "scale": {"domain": [0, 50], "nice": false}},
       "shape": {"field": "s", "type": "nominal", "scale": {"domain": ["oS","oT","oC","gS","gT","gC","bS","bT","bC"], "range": ["square","triangle-down","circle","square","triangle-down","circle","square","triangle-down","circle"]}, "legend": null},
       "fill": {"field": "s", "type": "nominal", "scale": {"domain": ["oS","oT","oC","gS","gT","gC","bS","bT","bC"], "range": ["white","white","white","#a0a0a0","#a0a0a0","#a0a0a0","black","black","black"]}, "legend": null}}},
     {"data": {"values": [{}]}, "mark": {"type": "text", "align": "right", "baseline": "middle", "fontSize": 23, "color": "black"}, "encoding": {"x": {"datum": 79, "type": "quantitative", "scale": {"domain": [-20, 80], "nice": false}}, "y": {"datum": 41.5, "type": "quantitative", "scale": {"domain": [0, 50], "nice": false}}, "text": {"value": "Tree Basal Area (m²ha⁻¹)"}}}
   ]}
  ]},
 {"width": 366, "height": 257, "resolve": {"scale": {"x": "independent", "shape": "independent"}},
  "layer": [
   {"data": {"name": "oB"}, "mark": {"type": "point", "filled": false, "stroke": "black", "strokeWidth": 1.2, "size": 145, "opacity": 1},
    "encoding": {"x": {"field": "site", "type": "nominal", "sort": null, "scale": {"type": "point", "domain": ["Unharvested", "47-64 years"], "range": [21, 47], "padding": 0}, "axis": null},
     "y": {"field": "v", "type": "quantitative", "scale": {"domain": [0, 60], "nice": false}, "axis": {"values": [0, 20, 40], "labelFontSize": 22, "labelColor": "black", "tickSize": 6, "tickColor": "#888888", "domain": false, "grid": false, "title": null, "labelPadding": 9}},
     "shape": {"field": "site", "type": "nominal", "scale": {"domain": ["Unharvested", "47-64 years"], "range": ["diamond", "triangle-up"]}, "legend": null}}},
   {"layer": [
     {"data": {"values": [{}]}, "mark": {"type": "rule", "strokeDash": [7, 4], "color": "#555555", "strokeWidth": 1}, "encoding": {"x": {"datum": 0, "type": "quantitative", "scale": {"domain": [-20, 80], "nice": false}, "axis": {"values": [20, 40, 60, 80], "labels": false, "tickSize": 8, "tickColor": "#888888", "domain": false, "grid": false, "title": null}}}},
     {"data": {"name": "sB"}, "mark": {"type": "line", "color": "#a8a8a8", "strokeWidth": 3}, "encoding": {"x": {"field": "t", "type": "quantitative", "scale": {"domain": [-20, 80], "nice": false}}, "y": {"field": "v", "type": "quantitative", "scale": {"domain": [0, 60], "nice": false}}, "detail": {"field": "s", "type": "nominal"}}},
     {"data": {"name": "nB"}, "mark": {"type": "line", "color": "black", "strokeWidth": 2}, "encoding": {"x": {"field": "t", "type": "quantitative", "scale": {"domain": [-20, 80], "nice": false}}, "y": {"field": "v", "type": "quantitative", "scale": {"domain": [0, 60], "nice": false}}}},
     {"data": {"name": "sB"}, "mark": {"type": "point", "filled": true, "stroke": "black", "strokeWidth": 1, "size": 55, "opacity": 1}, "encoding": {"x": {"field": "t", "type": "quantitative", "scale": {"domain": [-20, 80], "nice": false}}, "y": {"field": "v", "type": "quantitative", "scale": {"domain": [0, 60], "nice": false}},
       "shape": {"field": "s", "type": "nominal", "scale": {"domain": ["oS","oT","oC","gS","gT","gC","bS","bT","bC"], "range": ["square","triangle-down","circle","square","triangle-down","circle","square","triangle-down","circle"]}, "legend": null},
       "fill": {"field": "s", "type": "nominal", "scale": {"domain": ["oS","oT","oC","gS","gT","gC","bS","bT","bC"], "range": ["white","white","white","#a0a0a0","#a0a0a0","#a0a0a0","black","black","black"]}, "legend": null}}},
     {"data": {"values": [{}]}, "mark": {"type": "text", "align": "right", "baseline": "middle", "fontSize": 23, "color": "black"}, "encoding": {"x": {"datum": 79, "type": "quantitative", "scale": {"domain": [-20, 80], "nice": false}}, "y": {"datum": 50.4, "type": "quantitative", "scale": {"domain": [0, 60], "nice": false}}, "text": {"value": "Large Snag Density (ha⁻¹)"}}}
   ]}
  ]},
 {"width": 366, "height": 257, "resolve": {"scale": {"x": "independent", "shape": "independent"}},
  "layer": [
   {"data": {"name": "oE"}, "mark": {"type": "point", "filled": false, "stroke": "black", "strokeWidth": 1.2, "size": 145, "opacity": 1},
    "encoding": {"x": {"field": "site", "type": "nominal", "sort": null, "scale": {"type": "point", "domain": ["Unharvested", "47-64 years"], "range": [21, 47], "padding": 0}, "axis": null},
     "y": {"field": "v", "type": "quantitative", "scale": {"domain": [0, 15], "nice": false}, "axis": {"values": [0, 5, 10], "labelFontSize": 22, "labelColor": "black", "tickSize": 6, "tickColor": "#888888", "domain": false, "grid": false, "title": null, "labelPadding": 9}},
     "shape": {"field": "site", "type": "nominal", "scale": {"domain": ["Unharvested", "47-64 years"], "range": ["diamond", "triangle-up"]}, "legend": null}}},
   {"layer": [
     {"data": {"values": [{}]}, "mark": {"type": "rule", "strokeDash": [7, 4], "color": "#555555", "strokeWidth": 1}, "encoding": {"x": {"datum": 0, "type": "quantitative", "scale": {"domain": [-20, 80], "nice": false}, "axis": {"values": [20, 40, 60, 80], "labels": false, "tickSize": 8, "tickColor": "#888888", "domain": false, "grid": false, "title": null}}}},
     {"data": {"name": "sE"}, "mark": {"type": "line", "color": "#a8a8a8", "strokeWidth": 3}, "encoding": {"x": {"field": "t", "type": "quantitative", "scale": {"domain": [-20, 80], "nice": false}}, "y": {"field": "v", "type": "quantitative", "scale": {"domain": [0, 15], "nice": false}}, "detail": {"field": "s", "type": "nominal"}}},
     {"data": {"name": "nE"}, "mark": {"type": "line", "color": "black", "strokeWidth": 2}, "encoding": {"x": {"field": "t", "type": "quantitative", "scale": {"domain": [-20, 80], "nice": false}}, "y": {"field": "v", "type": "quantitative", "scale": {"domain": [0, 15], "nice": false}}}},
     {"data": {"name": "sE"}, "mark": {"type": "point", "filled": true, "stroke": "black", "strokeWidth": 1, "size": 55, "opacity": 1}, "encoding": {"x": {"field": "t", "type": "quantitative", "scale": {"domain": [-20, 80], "nice": false}}, "y": {"field": "v", "type": "quantitative", "scale": {"domain": [0, 15], "nice": false}},
       "shape": {"field": "s", "type": "nominal", "scale": {"domain": ["oS","oT","oC","gS","gT","gC","bS","bT","bC"], "range": ["square","triangle-down","circle","square","triangle-down","circle","square","triangle-down","circle"]}, "legend": null},
       "fill": {"field": "s", "type": "nominal", "scale": {"domain": ["oS","oT","oC","gS","gT","gC","bS","bT","bC"], "range": ["white","white","white","#a0a0a0","#a0a0a0","#a0a0a0","black","black","black"]}, "legend": null}}},
     {"data": {"values": [{}]}, "mark": {"type": "text", "align": "right", "baseline": "middle", "fontSize": 23, "color": "black"}, "encoding": {"x": {"datum": 79.8, "type": "quantitative", "scale": {"domain": [-20, 80], "nice": false}}, "y": {"datum": 12.25, "type": "quantitative", "scale": {"domain": [0, 15], "nice": false}}, "text": {"value": "Snag Basal Area (m²ha⁻¹)"}}}
   ]}
  ]},
 {"width": 366, "height": 257, "resolve": {"scale": {"x": "independent", "shape": "independent"}},
  "layer": [
   {"data": {"name": "oC"}, "mark": {"type": "point", "filled": false, "stroke": "black", "strokeWidth": 1.2, "size": 145, "opacity": 1},
    "encoding": {"x": {"field": "site", "type": "nominal", "sort": null, "scale": {"type": "point", "domain": ["Unharvested", "47-64 years"], "range": [21, 47], "padding": 0}, "axis": {"orient": "bottom", "labelAngle": -53, "labelAlign": "right", "labelBaseline": "middle", "labelFontSize": 20.5, "labelColor": "black", "labelPadding": 11, "tickSize": 8, "tickColor": "#888888", "domain": false, "title": null}},
     "y": {"field": "v", "type": "quantitative", "scale": {"domain": [0, 180], "nice": false}, "axis": {"values": [0, 60, 120], "labelFontSize": 22, "labelColor": "black", "tickSize": 6, "tickColor": "#888888", "domain": false, "grid": false, "title": null, "labelPadding": 9}},
     "shape": {"field": "site", "type": "nominal", "scale": {"domain": ["Unharvested", "47-64 years"], "range": ["diamond", "triangle-up"]}, "legend": null}}},
   {"layer": [
     {"data": {"values": [{}]}, "mark": {"type": "rule", "strokeDash": [7, 4], "color": "#555555", "strokeWidth": 1}, "encoding": {"x": {"datum": 0, "type": "quantitative", "scale": {"domain": [-20, 80], "nice": false}, "axis": {"orient": "bottom", "values": [-20, 0, 20, 40, 60, 80], "labelExpr": "datum.value < 0 ? '' : [datum.label, '(' + (datum.value + 120) + ')']", "labelFontSize": 22, "labelLineHeight": 27, "labelColor": "black", "labelFlush": false, "labelOverlap": false, "labelPadding": 15, "tickSize": 8, "tickColor": "#888888", "domain": false, "grid": false, "title": ["Time Since Harvest", "(Time Since Origin)"], "titleFontSize": 22, "titleFontWeight": "normal", "titleLineHeight": 27, "titleColor": "black", "titleX": 218, "titlePadding": 13}}}},
     {"data": {"name": "sC"}, "mark": {"type": "line", "color": "#a8a8a8", "strokeWidth": 3}, "encoding": {"x": {"field": "t", "type": "quantitative", "scale": {"domain": [-20, 80], "nice": false}}, "y": {"field": "v", "type": "quantitative", "scale": {"domain": [0, 180], "nice": false}}, "detail": {"field": "s", "type": "nominal"}}},
     {"data": {"name": "nC"}, "mark": {"type": "line", "color": "black", "strokeWidth": 2}, "encoding": {"x": {"field": "t", "type": "quantitative", "scale": {"domain": [-20, 80], "nice": false}}, "y": {"field": "v", "type": "quantitative", "scale": {"domain": [0, 180], "nice": false}}}},
     {"data": {"name": "sC"}, "mark": {"type": "point", "filled": true, "stroke": "black", "strokeWidth": 1, "size": 55, "opacity": 1}, "encoding": {"x": {"field": "t", "type": "quantitative", "scale": {"domain": [-20, 80], "nice": false}}, "y": {"field": "v", "type": "quantitative", "scale": {"domain": [0, 180], "nice": false}},
       "shape": {"field": "s", "type": "nominal", "scale": {"domain": ["oS","oT","oC","gS","gT","gC","bS","bT","bC"], "range": ["square","triangle-down","circle","square","triangle-down","circle","square","triangle-down","circle"]}, "legend": null},
       "fill": {"field": "s", "type": "nominal", "scale": {"domain": ["oS","oT","oC","gS","gT","gC","bS","bT","bC"], "range": ["white","white","white","#a0a0a0","#a0a0a0","#a0a0a0","black","black","black"]}, "legend": null}}},
     {"data": {"values": [{}]}, "mark": {"type": "text", "align": "right", "baseline": "middle", "fontSize": 23, "color": "black"}, "encoding": {"x": {"datum": 79, "type": "quantitative", "scale": {"domain": [-20, 80], "nice": false}}, "y": {"datum": 147, "type": "quantitative", "scale": {"domain": [0, 180], "nice": false}}, "text": {"value": "DWD Volume (m³ha⁻¹)"}}}
   ]}
  ]},
 {"width": 366, "height": 257, "resolve": {"scale": {"x": "independent", "shape": "independent"}},
  "layer": [
   {"data": {"name": "oF"}, "mark": {"type": "point", "filled": false, "stroke": "black", "strokeWidth": 1.2, "size": 145, "opacity": 1},
    "encoding": {"x": {"field": "site", "type": "nominal", "sort": null, "scale": {"type": "point", "domain": ["Unharvested", "47-64 years"], "range": [21, 47], "padding": 0}, "axis": {"orient": "bottom", "labelAngle": -53, "labelAlign": "right", "labelBaseline": "middle", "labelFontSize": 20.5, "labelColor": "black", "labelPadding": 11, "tickSize": 8, "tickColor": "#888888", "domain": false, "title": null}},
     "y": {"field": "v", "type": "quantitative", "scale": {"domain": [1, 5], "nice": false, "zero": false}, "axis": {"values": [1, 2, 3, 4], "format": "d", "labelFontSize": 22, "labelColor": "black", "tickSize": 6, "tickColor": "#888888", "domain": false, "grid": false, "title": null, "labelPadding": 9}},
     "shape": {"field": "site", "type": "nominal", "scale": {"domain": ["Unharvested", "47-64 years"], "range": ["diamond", "triangle-up"]}, "legend": null}}},
   {"layer": [
     {"data": {"values": [{}]}, "mark": {"type": "rule", "strokeDash": [7, 4], "color": "#555555", "strokeWidth": 1}, "encoding": {"x": {"datum": 0, "type": "quantitative", "scale": {"domain": [-20, 80], "nice": false}, "axis": {"orient": "bottom", "values": [-20, 0, 20, 40, 60, 80], "labelExpr": "datum.value < 0 ? '' : [datum.label, '(' + (datum.value + 120) + ')']", "labelFontSize": 22, "labelLineHeight": 27, "labelColor": "black", "labelFlush": false, "labelOverlap": false, "labelPadding": 15, "tickSize": 8, "tickColor": "#888888", "domain": false, "grid": false, "title": ["Time Since Harvest", "(Time Since Origin)"], "titleFontSize": 22, "titleFontWeight": "normal", "titleLineHeight": 27, "titleColor": "black", "titleX": 218, "titlePadding": 13}}}},
     {"data": {"name": "sF"}, "mark": {"type": "line", "color": "#a8a8a8", "strokeWidth": 3}, "encoding": {"x": {"field": "t", "type": "quantitative", "scale": {"domain": [-20, 80], "nice": false}}, "y": {"field": "v", "type": "quantitative", "scale": {"domain": [1, 5], "nice": false, "zero": false}}, "detail": {"field": "s", "type": "nominal"}}},
     {"data": {"name": "nF"}, "mark": {"type": "line", "color": "black", "strokeWidth": 2}, "encoding": {"x": {"field": "t", "type": "quantitative", "scale": {"domain": [-20, 80], "nice": false}}, "y": {"field": "v", "type": "quantitative", "scale": {"domain": [1, 5], "nice": false, "zero": false}}}},
     {"data": {"name": "sF"}, "mark": {"type": "point", "filled": true, "stroke": "black", "strokeWidth": 1, "size": 55, "opacity": 1}, "encoding": {"x": {"field": "t", "type": "quantitative", "scale": {"domain": [-20, 80], "nice": false}}, "y": {"field": "v", "type": "quantitative", "scale": {"domain": [1, 5], "nice": false, "zero": false}},
       "shape": {"field": "s", "type": "nominal", "scale": {"domain": ["oS","oT","oC","gS","gT","gC","bS","bT","bC"], "range": ["square","triangle-down","circle","square","triangle-down","circle","square","triangle-down","circle"]}, "legend": null},
       "fill": {"field": "s", "type": "nominal", "scale": {"domain": ["oS","oT","oC","gS","gT","gC","bS","bT","bC"], "range": ["white","white","white","#a0a0a0","#a0a0a0","#a0a0a0","black","black","black"]}, "legend": null}}},
     {"data": {"values": [{}]}, "mark": {"type": "text", "align": "right", "baseline": "middle", "fontSize": 23, "color": "black"}, "encoding": {"x": {"datum": 79, "type": "quantitative", "scale": {"domain": [-20, 80], "nice": false}}, "y": {"datum": 4.33, "type": "quantitative", "scale": {"domain": [1, 5], "nice": false, "zero": false}}, "text": {"value": "Mean DWD Decay Class"}}}
   ]}
  ]}
]
}
